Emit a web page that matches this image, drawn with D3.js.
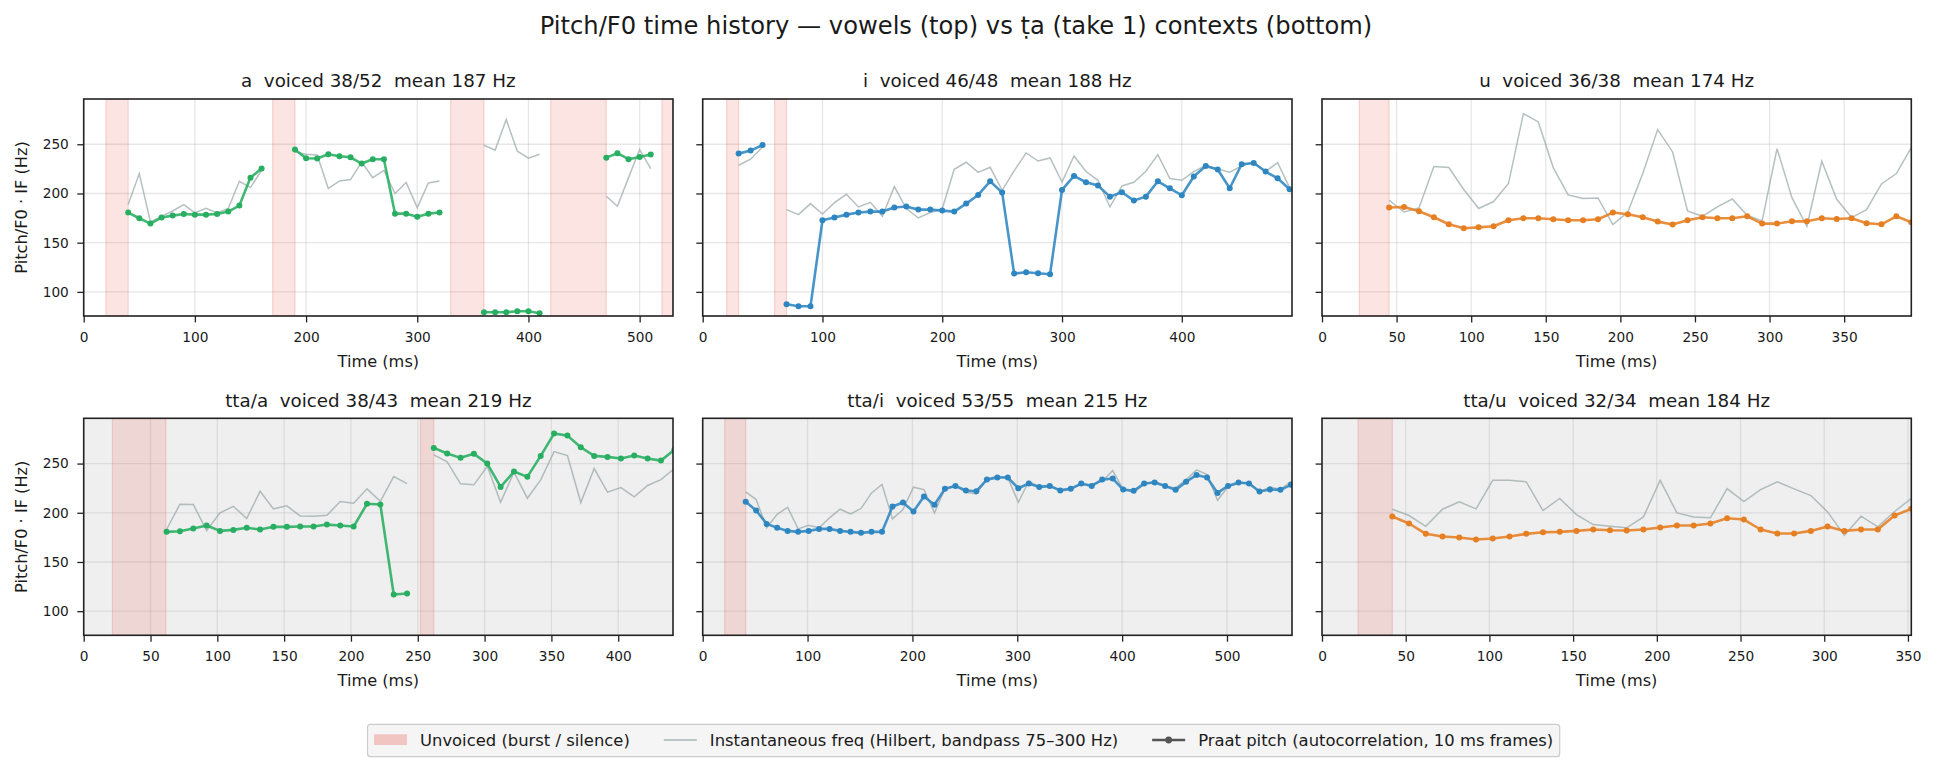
<!DOCTYPE html>
<html>
<head>
<meta charset="utf-8">
<script src="https://cdn.jsdelivr.net/npm/d3@7"></script>
<style>
  body { margin: 0; background: #fff; }
  svg text { font-family: 'DejaVu Sans', sans-serif; fill: #1a1a1a; }
</style>
</head>
<body>
<div id="chart"></div>
<script>
const w = 1937, h = 771;

// panels: top row = vowels, bottom row = tta contexts
const titles = [
  'a  voiced 38/52  mean 187 Hz',
  'i  voiced 46/48  mean 188 Hz',
  'u  voiced 36/38  mean 174 Hz',
  'tta/a  voiced 38/43  mean 219 Hz',
  'tta/i  voiced 53/55  mean 215 Hz',
  'tta/u  voiced 32/34  mean 184 Hz'
];
const vowelColors = ['#27ae60', '#2e86c1', '#e67e22'];
const xMax = [530, 492, 395, 441, 562, 352];
const xTicks = [
  [0, 100, 200, 300, 400, 500],
  [0, 100, 200, 300, 400],
  [0, 50, 100, 150, 200, 250, 300, 350],
  [0, 50, 100, 150, 200, 250, 300, 350, 400],
  [0, 100, 200, 300, 400, 500],
  [0, 50, 100, 150, 200, 250, 300, 350]
];
const yTicks = [100, 150, 200, 250];
const yDomain = [75.5, 296];

// first frame time (ms) of each series, frames every 10 ms
const frameStart = [40, 30, 45, 62, 41, 42];
const frameStep = 10;

// unvoiced spans [from, to] in ms
const unvoiced = [
  [[20, 40], [170, 190], [330, 360], [420, 470], [520, 530]],
  [[20, 30], [60, 70]],
  [[25, 45]],
  [[21.5, 61.5], [252, 262]],
  [[21, 41]],
  [[21.5, 42]]
];

// Praat pitch (Hz), null = unvoiced frame
const pitchA = [180.6,174.8,169.4,175.5,177.5,179.2,178.5,178.5,179.2,181.6,187.7,216.1,225.3,null,null,
  244.6,235.8,235.5,239.8,237.8,236.8,230.4,234.8,234.8,179.5,179.5,176.4,179.5,180.6,null,null,null,
  79.3,79.3,79.3,80.3,80.3,78.3,null,null,null,null,null,236.4,240.9,234.8,237.1,239.5];
const pitchI = [240.5,243.6,249.3,null,87.4,85.4,85.4,172.8,175.5,178.5,180.6,181.6,181.6,185.7,186.7,183.6,
  183.6,182.6,181.6,189.7,198.5,212.4,200.9,118.6,119.9,118.9,117.9,203.6,217.8,211.4,208.0,196.8,201.2,
  192.8,196.8,212.4,205.3,198.2,217.2,228.0,224.3,205.3,229.7,231.0,222.3,215.4,204.3];
const pitchU = [185.7,186.3,181.9,175.8,168.7,164.6,165.6,166.7,172.8,174.8,174.8,173.8,172.8,172.8,173.8,180.6,
  178.9,175.8,171.4,168.4,172.8,175.8,174.8,174.8,176.8,169.4,169.4,171.7,171.7,174.8,174.1,174.8,169.7,
  168.7,176.8,170.7];
const pitchTtaA = [180.6,181.2,184.0,187.0,181.6,182.6,184.7,183.0,185.7,185.7,186.0,186.0,188.0,187.0,186.0,
  209.1,208.4,116.9,117.9,null,265.9,260.2,255.8,259.9,250.0,226.3,241.9,236.5,257.8,280.5,278.4,266.6,
  257.8,256.8,255.1,258.1,255.1,253.0,264.0];
const pitchTtaI = [211.1,202.3,188.7,184.7,181.6,180.6,181.6,183.6,183.6,181.6,180.6,179.6,180.6,180.6,206.3,
  210.4,201.3,216.5,208.1,224.3,227.3,222.6,221.9,233.7,235.8,235.8,224.9,229.7,226.3,227.3,222.6,224.3,
  229.7,227.3,233.7,234.8,223.6,222.3,229.7,230.7,227.3,223.3,231.4,238.5,235.8,220.2,227.3,230.7,229.7,
  221.6,223.6,223.3,228.4];
const pitchTtaU = [196.2,189.1,178.6,175.9,174.8,172.8,173.8,175.9,178.6,180.2,180.6,181.6,183.0,182.3,182.0,
  183.0,185.0,187.0,187.0,189.1,194.4,193.1,183.0,178.9,178.9,181.6,186.0,181.6,183.0,183.0,197.2,204.0];

// instantaneous frequency (Hilbert), Hz
const instA = [188.7,220.2,171.0,176.8,182.2,188.7,180.2,185.0,180.2,184.7,212.4,206.0,223.6,null,null,
  242.2,239.8,239.1,205.0,212.7,214.1,232.0,216.1,223.6,199.9,211.1,185.7,210.7,212.7,null,null,null,
  249.0,243.9,275.1,242.9,235.8,239.8,null,null,null,null,null,197.2,187.0,216.1,244.6,225.3];
const instI = [228.7,234.8,247.3,null,183.6,178.5,189.7,179.2,190.7,199.2,186.3,191.0,176.8,207.0,184.7,175.1,
  180.6,184.4,224.6,231.7,221.5,226.6,203.2,222.9,241.2,233.0,236.1,211.7,238.1,222.3,213.4,186.3,207.6,
  211.4,222.6,239.5,215.1,213.4,222.3,228.7,224.9,221.6,228.0,231.7,222.3,231.4,206.0];
const instU = [193.1,181.2,185.3,227.3,226.3,204.0,184.7,191.8,210.1,281.2,272.7,226.3,198.5,194.8,195.4,168.4,
  181.2,220.2,264.9,242.2,182.2,176.8,186.3,194.4,177.8,172.1,245.6,195.8,166.7,232.7,194.1,175.5,183.6,
  209.7,220.2,246.6];
const instTtaA = [183.0,208.7,208.4,182.0,199.9,206.6,194.1,221.9,204.0,207.0,196.8,196.5,197.5,211.4,209.7,
  224.3,211.7,236.8,229.7,null,258.8,251.7,229.4,228.4,247.3,210.7,241.2,214.8,233.4,262.2,258.1,210.4,
  244.9,220.9,225.6,216.2,227.7,233.7,245.0];
const instTtaI = [221.3,213.4,184.7,198.5,205.6,183.6,187.3,184.7,194.9,203.6,198.9,204.3,220.2,228.7,193.8,
  203.3,226.0,223.6,199.9,224.3,227.0,220.9,219.2,234.5,237.1,235.5,210.7,232.0,226.3,226.3,223.6,225.3,
  228.7,228.7,232.0,242.9,223.6,220.9,228.7,232.0,227.0,225.3,233.7,243.6,238.8,212.7,226.3,229.7,231.0,
  220.9,226.3,223.6,232.0];
const instTtaU = [203.6,197.2,186.3,203.6,211.1,204.0,233.0,233.0,231.4,202.3,214.5,198.2,188.0,186.3,184.7,
  195.8,233.0,199.9,195.8,194.9,224.6,211.4,223.6,231.4,224.3,217.5,200.9,177.2,196.5,185.7,201.3,214.5];

const pitchSeries = [pitchA, pitchI, pitchU, pitchTtaA, pitchTtaI, pitchTtaU];
const instSeries = [instA, instI, instU, instTtaA, instTtaI, instTtaU];

const legendLabels = ['Unvoiced (burst / silence)', 'Instantaneous freq (Hilbert, bandpass 75–300 Hz)',
  'Praat pitch (autocorrelation, 10 ms frames)'];

// layout
const colLeft = [83.7, 702.7, 1322];
const rowTop = [99, 418.3];
const pw = 589.3, ph = 217;

const svg = d3.select('#chart').append('svg')
  .attr('width', w).attr('height', h)
  .attr('viewBox', `0 0 ${w} ${h}`);

svg.append('text')
  .attr('x', 956).attr('y', 34)
  .attr('text-anchor', 'middle')
  .attr('font-size', 24.2)
  .text('Pitch/F0 time history — vowels (top) vs ṭa (take 1) contexts (bottom)');

const toPoints = (vals, t0) => vals.map((v, i) => ({t: t0 + i * frameStep, v}));

titles.forEach((title, k) => {
  const col = k % 3, row = Math.floor(k / 3);
  const color = vowelColors[col];
  const g = svg.append('g').attr('transform', `translate(${colLeft[col]},${rowTop[row]})`);

  const x = d3.scaleLinear().domain([0, xMax[k]]).range([0, pw]);
  const y = d3.scaleLinear().domain(yDomain).range([ph, 0]);

  g.append('clipPath').attr('id', 'clip' + k)
    .append('rect').attr('width', pw).attr('height', ph);

  g.append('rect')
    .attr('width', pw).attr('height', ph)
    .attr('fill', row == 1 ? '#efefef' : '#fff');

  const plot = g.append('g').attr('clip-path', `url(#clip${k})`);

  // grid
  plot.selectAll('.vgrid').data(xTicks[k]).enter().append('line')
    .attr('x1', d => x(d)).attr('x2', d => x(d))
    .attr('y1', 0).attr('y2', ph)
    .attr('stroke', '#b0b0b0').attr('stroke-opacity', 0.3).attr('stroke-width', 1.3);
  plot.selectAll('.hgrid').data(yTicks).enter().append('line')
    .attr('x1', 0).attr('x2', pw)
    .attr('y1', d => y(d)).attr('y2', d => y(d))
    .attr('stroke', '#b0b0b0').attr('stroke-opacity', 0.3).attr('stroke-width', 1.3);

  // unvoiced spans
  plot.selectAll('.band').data(unvoiced[k]).enter().append('rect')
    .attr('x', d => x(d[0]))
    .attr('width', d => x(d[1]) - x(d[0]))
    .attr('y', 0).attr('height', ph)
    .attr('fill', '#e74c3c').attr('fill-opacity', 0.15)
    .attr('stroke', '#e74c3c').attr('stroke-opacity', 0.2).attr('stroke-width', 1.2);

  const line = d3.line()
    .defined(d => d.v != null)
    .x(d => x(d.t)).y(d => y(d.v));

  const inst = toPoints(instSeries[k], frameStart[k]);
  plot.append('path').datum(inst)
    .attr('d', line)
    .attr('fill', 'none')
    .attr('stroke', '#95a5a6').attr('stroke-opacity', 0.7)
    .attr('stroke-width', 1.5);

  const pitch = toPoints(pitchSeries[k], frameStart[k]);
  plot.append('path').datum(pitch)
    .attr('d', line)
    .attr('fill', 'none')
    .attr('stroke', color).attr('stroke-opacity', 0.88)
    .attr('stroke-width', 2.6).attr('stroke-linejoin', 'round');

  plot.selectAll('.pt').data(pitch.filter(d => d.v != null)).enter().append('circle')
    .attr('cx', d => x(d.t)).attr('cy', d => y(d.v))
    .attr('r', 3)
    .attr('fill', color);

  // axes
  const xAxis = g.append('g')
    .attr('transform', `translate(0,${ph})`)
    .call(d3.axisBottom(x).tickValues(xTicks[k]).tickSize(6.4).tickPadding(10).tickSizeOuter(0));
  const yAxis = g.append('g')
    .call(d3.axisLeft(y).tickValues(yTicks).tickSize(6.4).tickPadding(8.5).tickSizeOuter(0)
      .tickFormat(col == 0 ? d3.format('d') : () => ''));
  [xAxis, yAxis].forEach(a => {
    a.select('.domain').remove();
    a.attr('font-size', 13.7).attr('font-family', 'DejaVu Sans');
    a.selectAll('line').attr('stroke', '#222').attr('stroke-width', 1.3);
    a.selectAll('text').attr('fill', '#1a1a1a');
  });

  g.append('rect')
    .attr('width', pw).attr('height', ph)
    .attr('fill', 'none').attr('stroke', '#222').attr('stroke-width', 1.6);

  g.append('text')
    .attr('x', pw / 2).attr('y', -11.7)
    .attr('text-anchor', 'middle')
    .attr('font-size', 18.3)
    .style('white-space', 'pre')
    .text(title);

  g.append('text')
    .attr('x', pw / 2).attr('y', ph + 51)
    .attr('text-anchor', 'middle')
    .attr('font-size', 16.2)
    .text('Time (ms)');

  if (col == 0) {
    g.append('text')
      .attr('transform', `translate(${27.5 - colLeft[0]},${ph / 2}) rotate(-90)`)
      .attr('text-anchor', 'middle')
      .attr('font-size', 16.2)
      .text('Pitch/F0 · IF (Hz)');
  }
});

// legend
const legend = svg.append('g');
const legBox = legend.append('rect')
  .attr('y', 724.3).attr('height', 32.4).attr('rx', 3)
  .attr('fill', '#f5f5f5').attr('stroke', '#cccccc').attr('stroke-width', 1.2);

let lx = 374;
legendLabels.forEach((label, i) => {
  if (i == 0) {
    legend.append('rect')
      .attr('x', lx).attr('y', 734.3).attr('width', 33).attr('height', 10.7)
      .attr('fill', '#e74c3c').attr('fill-opacity', 0.28);
  } else if (i == 1) {
    legend.append('line')
      .attr('x1', lx).attr('x2', lx + 33).attr('y1', 740).attr('y2', 740)
      .attr('stroke', '#95a5a6').attr('stroke-opacity', 0.8).attr('stroke-width', 1.5);
  } else {
    legend.append('line')
      .attr('x1', lx).attr('x2', lx + 33).attr('y1', 740).attr('y2', 740)
      .attr('stroke', '#555').attr('stroke-width', 2.6);
    legend.append('circle').attr('cx', lx + 16.5).attr('cy', 740).attr('r', 3.4).attr('fill', '#555');
  }
  const t = legend.append('text')
    .attr('x', lx + 46).attr('y', 745.8)
    .attr('font-size', 16.4)
    .text(label);
  lx = lx + 46 + t.node().getComputedTextLength() + 34;
});
legBox.attr('x', 367.5).attr('width', lx - 34 + 6.5 - 367.5);
</script>
</body>
</html>
